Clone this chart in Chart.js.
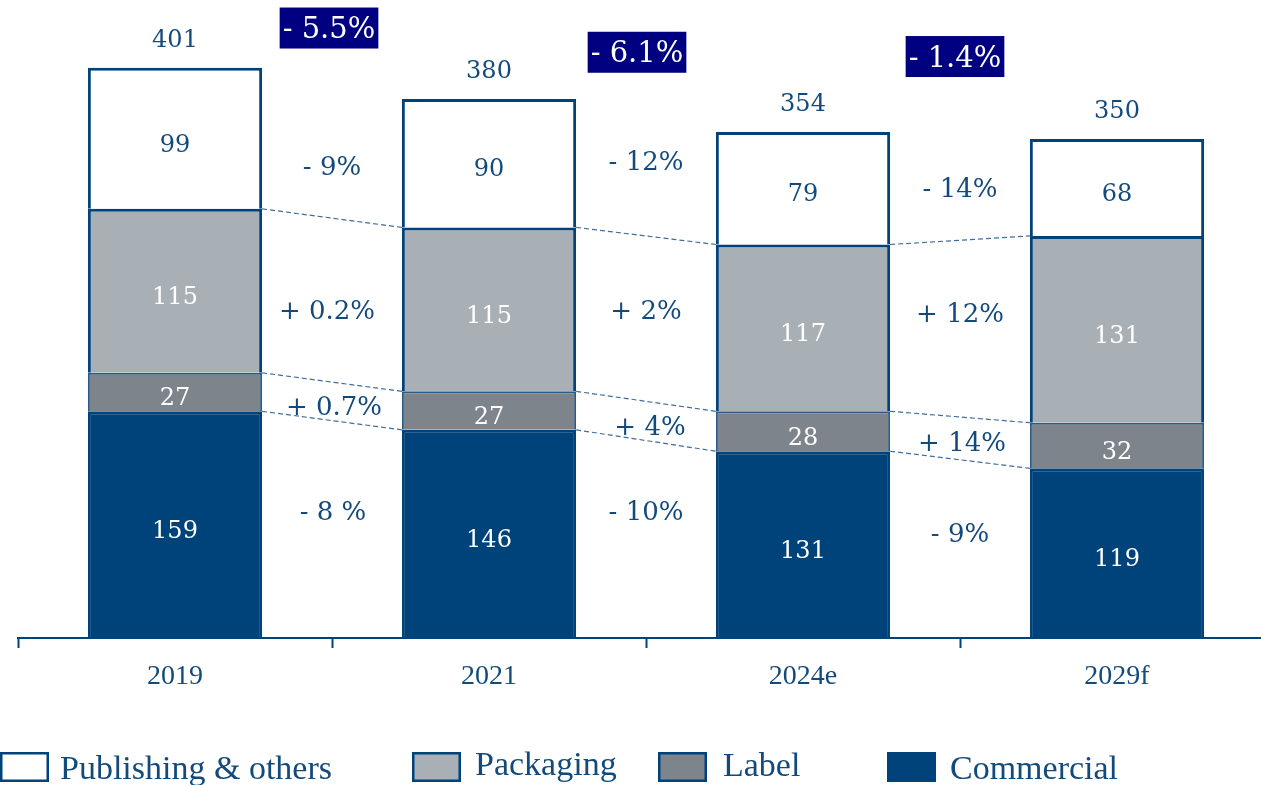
<!DOCTYPE html>
<html><head><meta charset="utf-8">
<script src="https://cdn.jsdelivr.net/npm/chart.js@4.4.1/dist/chart.umd.min.js"></script>
<style>html,body{margin:0;padding:0;overflow:hidden;background:#fff;width:1261px;height:785px}
#wrap{position:absolute;left:0;top:0;width:1290px;height:785px}</style></head>
<body><div id="wrap"><canvas id="c" width="1290" height="785"></canvas></div>
<script>
const categories = ['2019', '2021', '2024e', '2029f'];
const commercial = [159, 146, 131, 119];
const label = [27, 27, 28, 32];
const packaging = [115, 115, 117, 131];
const publishing = [99, 90, 79, 68];
const totals = [401, 380, 354, 350];
const seriesNames = ['Publishing & others', 'Packaging', 'Label', 'Commercial'];
const cagrLabels = ['- 5.5%', '- 6.1%', '- 1.4%'];
const growthPublishing = ['- 9%', '- 12%', '- 14%'];
const growthPackaging = ['+ 0.2%', '+ 2%', '+ 12%'];
const growthLabel = ['+ 0.7%', '+ 4%', '+ 14%'];
const growthCommercial = ['- 8 %', '- 10%', '- 9%'];

const NAVY = '#00427A';
const TEXT = '#134A7C';
const PACK = '#A8B0B6';
const LAB = '#7E848B';
const BOX = '#000080';
const SERIF = '"DejaVu Serif", serif';
const SERIF2 = '"Liberation Serif", serif';

// annotation placement (value-space y, x offset px) — layout only
const growthLayout = {
  publishing: {y: [332, 336, 317], dx: [0, 0, 0]},
  packaging: {y: [231, 231, 229], dx: [-5, 0, 0]},
  label: {y: [164, 150, 139], dx: [2, 4, 2]},
  commercial: {y: [90, 90, 75], dx: [1, 0, 0]},
  cagr: {y: [431, 414, 411], dx: [-3, -9, -5]}
};

const overlay = {
  id: 'overlay',
  afterDatasetsDraw(chart) {
    const ctx = chart.ctx;
    const ys = chart.scales.y;
    const metas = [0,1,2,3].map(i => chart.getDatasetMeta(i));
    const n = categories.length;
    // dashed connectors
    ctx.save();
    ctx.strokeStyle = '#3F6E9C';
    ctx.lineWidth = 1.2;
    ctx.setLineDash([5, 3]);
    for (let i = 0; i < n - 1; i++) {
      const a = metas[0].data[i], b = metas[0].data[i + 1];
      const x1 = a.x + a.width / 2, x2 = b.x - b.width / 2;
      const cumA = [commercial[i], commercial[i] + label[i], commercial[i] + label[i] + packaging[i]];
      const cumB = [commercial[i+1], commercial[i+1] + label[i+1], commercial[i+1] + label[i+1] + packaging[i+1]];
      for (let k = 0; k < 3; k++) {
        ctx.beginPath();
        ctx.moveTo(x1, ys.getPixelForValue(cumA[k]));
        ctx.lineTo(x2, ys.getPixelForValue(cumB[k]));
        ctx.stroke();
      }
    }
    ctx.restore();

    // segment labels
    ctx.save();
    ctx.textAlign = 'center';
    ctx.textBaseline = 'middle';
    ctx.font = '24px ' + SERIF;
    const segColors = ['#FFFFFF', '#FFFFFF', '#FFFFFF', TEXT];
    const segData = [commercial, label, packaging, publishing];
    for (let d = 0; d < 4; d++) {
      metas[d].data.forEach((el, i) => {
        ctx.fillStyle = segColors[d];
        const cy = (el.y + el.base) / 2 + 7;
        ctx.fillText(String(segData[d][i]), el.x, cy);
      });
    }
    // totals
    ctx.fillStyle = TEXT;
    metas[3].data.forEach((el, i) => {
      ctx.fillText(String(totals[i]), el.x, el.y - 27);
    });

    // growth labels
    ctx.font = '26px ' + SERIF;
    const groups = [
      [growthPublishing, growthLayout.publishing],
      [growthPackaging, growthLayout.packaging],
      [growthLabel, growthLayout.label],
      [growthCommercial, growthLayout.commercial]
    ];
    for (let i = 0; i < n - 1; i++) {
      const a = metas[0].data[i], b = metas[0].data[i + 1];
      const mx = (a.x + b.x) / 2;
      groups.forEach(([texts, lay]) => {
        ctx.fillStyle = TEXT;
        ctx.fillText(texts[i], mx + lay.dx[i], ys.getPixelForValue(lay.y[i]) + 4);
      });
      // CAGR boxes
      ctx.font = '29px ' + SERIF;
      const t = cagrLabels[i];
      const w = ctx.measureText(t).width + 6;
      const cx = mx + growthLayout.cagr.dx[i];
      const cy = ys.getPixelForValue(growthLayout.cagr.y[i]) + 4;
      ctx.fillStyle = BOX;
      ctx.fillRect(cx - w / 2, cy - 20, w, 41);
      ctx.fillStyle = '#FFFFFF';
      ctx.fillText(t, cx, cy + 3);
      ctx.font = '26px ' + SERIF;
    }
    ctx.restore();
  },
  afterDraw(chart) {
    const ctx = chart.ctx;
    ctx.save();
    const fills = ['#FFFFFF', PACK, LAB, NAVY];
    const boxX = [0, 412, 658, 887];
    const textX = [60, 475, 723, 950];
    const textY = [770, 766, 767, 770];
    ctx.font = '34px ' + SERIF2;
    ctx.textBaseline = 'middle';
    ctx.textAlign = 'left';
    for (let k = 0; k < 4; k++) {
      ctx.fillStyle = fills[k];
      ctx.fillRect(boxX[k], 752, 49, 30);
      ctx.strokeStyle = NAVY;
      ctx.lineWidth = 2.5;
      ctx.strokeRect(boxX[k] + 1.25, 753.25, 46.5, 27.5);
      ctx.fillStyle = TEXT;
      ctx.fillText(seriesNames[k], textX[k], textY[k]);
    }
    ctx.restore();
  }
};

new Chart(document.getElementById('c'), {
  type: 'bar',
  data: {
    labels: categories,
    datasets: [
      {label: seriesNames[3], data: commercial, backgroundColor: NAVY, borderColor: NAVY, borderWidth: 3},
      {label: seriesNames[2], data: label, backgroundColor: LAB, borderColor: '#2B5A86', borderWidth: 2},
      {label: seriesNames[1], data: packaging, backgroundColor: PACK, borderColor: NAVY, borderWidth: 3},
      {label: seriesNames[0], data: publishing, backgroundColor: '#FFFFFF', borderColor: NAVY, borderWidth: 3}
    ]
  },
  options: {
    responsive: false,
    animation: false,
    devicePixelRatio: 1,
    layout: {padding: {left: 18, right: 16, top: 0, bottom: 0}},
    datasets: {bar: {categoryPercentage: 1, barPercentage: 0.555}},
    plugins: {legend: {display: false}, tooltip: {enabled: false}},
    scales: {
      x: {
        stacked: true,
        offset: true,
        grid: {display: true, offset: true, drawOnChartArea: false, drawTicks: true, tickLength: 10, tickWidth: 2, tickColor: NAVY},
        border: {display: true, color: NAVY, width: 2},
        ticks: {color: TEXT, font: {family: SERIF2, size: 28}, padding: 12},
        afterFit(s) { s.height = 147; }
      },
      y: {stacked: true, display: false, min: 0, max: 447.5}
    }
  },
  plugins: [overlay]
});
</script>
</body></html>
